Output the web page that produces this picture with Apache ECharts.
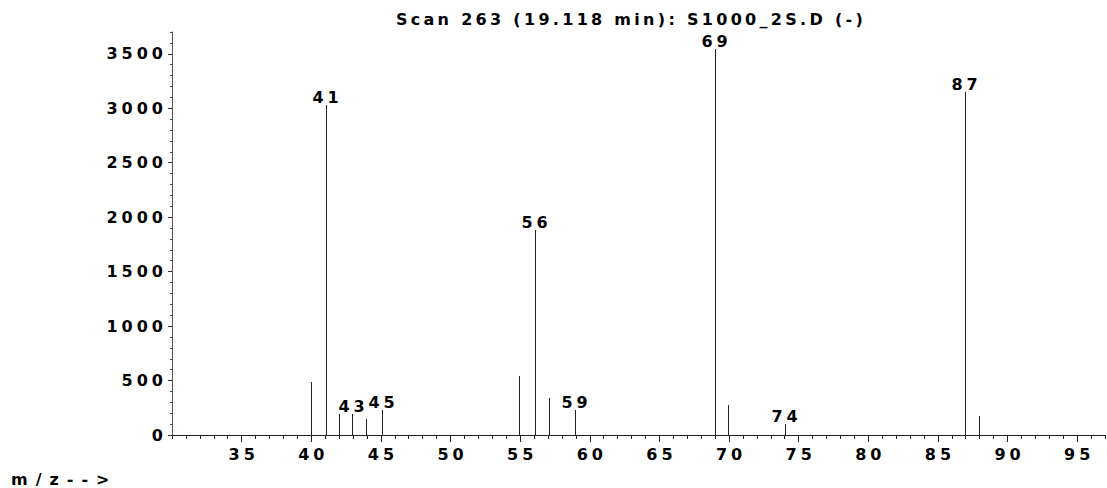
<!DOCTYPE html>
<html>
<head>
<meta charset="utf-8">
<script src="https://cdn.jsdelivr.net/npm/echarts@6/dist/echarts.min.js"></script>
<style>
html, body { margin: 0; padding: 0; background: #ffffff; }
#main { width: 1107px; height: 488px; }
#main text { letter-spacing: 4px; }
#main text[style*="Verdana"] { letter-spacing: 3.3px; }
#main text[style*="Tahoma"] { letter-spacing: 8px; }
</style>
</head>
<body>
<div id="main"></div>
<script>
// ---- data ----
const titleText = 'Scan 263 (19.118 min): S1000_2S.D (-)';
const xAxisText = 'm/z-->';
const mz        = [40.0, 41.05, 42.0, 42.9, 43.9, 45.05, 54.95, 56.1, 57.1, 58.95, 69.0, 69.9, 74.0, 86.95, 87.95];
const abundance = [490, 3030, 195, 193, 145, 230, 545, 1880, 343, 230, 3545, 273, 101, 3148, 177];
const peakLabels = ['', '41', '', '43', '', '45', '', '56', '', '59', '69', '', '74', '87', ''];
const xTickLabels = [35, 40, 45, 50, 55, 60, 65, 70, 75, 80, 85, 90, 95];
const yTickLabels = [0, 500, 1000, 1500, 2000, 2500, 3000, 3500];

const labelFont = 'DejaVu Sans';
const titleFont = 'Verdana, DejaVu Sans';
const unitFont = 'Tahoma, DejaVu Sans';

const chart = echarts.init(document.getElementById('main'), null, { renderer: 'svg' });

const option = {
  animation: false,
  backgroundColor: '#ffffff',
  title: [
    {
      text: titleText,
      left: 626,
      top: 6,
      textAlign: 'center',
      textStyle: { fontFamily: titleFont, fontSize: 16, fontWeight: 'bold', color: '#000' }
    },
    {
      text: xAxisText,
      left: 6,
      top: 466,
      textStyle: { fontFamily: unitFont, fontSize: 16, fontWeight: 'bold', color: '#000' }
    }
  ],
  grid: { left: 172, right: 2, top: 32, bottom: 53, containLabel: false },
  xAxis: [
    {
      type: 'value', min: 30, max: 97, interval: 1,
      position: 'bottom',
      splitLine: { show: false },
      axisLine: { show: true, lineStyle: { color: '#222', width: 1 } },
      axisTick: { show: true, length: 4, lineStyle: { color: '#222' } },
      axisLabel: {
        customValues: xTickLabels,
        formatter: function (v) { return String(v); },
        margin: 11,
        padding: [0, 0, 0, 4],
        fontFamily: labelFont, fontSize: 16, fontWeight: 'bold', color: '#000'
      }
    },
    {
      type: 'value', min: 30, max: 97,
      position: 'bottom',
      splitLine: { show: false },
      axisLine: { show: false },
      axisTick: { show: true, length: 7, customValues: xTickLabels, lineStyle: { color: '#222' } },
      axisLabel: { show: false }
    }
  ],
  yAxis: [
    {
      type: 'value', min: 0, max: 3700, interval: 100,
      position: 'left',
      splitLine: { show: false },
      axisLine: { show: true, lineStyle: { color: '#555', width: 1 } },
      axisTick: { show: true, length: 2, lineStyle: { color: '#444' } },
      axisLabel: {
        customValues: yTickLabels,
        formatter: function (v) { return String(v); },
        margin: 5,
        fontFamily: labelFont, fontSize: 16, fontWeight: 'bold', color: '#000'
      }
    },
    {
      type: 'value', min: 0, max: 3700,
      position: 'left',
      splitLine: { show: false },
      axisLine: { show: false },
      axisTick: { show: true, length: 4, customValues: yTickLabels, lineStyle: { color: '#333' } },
      axisLabel: { show: false }
    }
  ],
  series: [
    {
      type: 'custom',
      xAxisIndex: 0,
      yAxisIndex: 0,
      data: mz.map((m, i) => [m, abundance[i]]),
      encode: { x: 0, y: 1 },
      clip: false,
      renderItem: function (params, api) {
        const base = api.coord([api.value(0), 0]);
        const top = api.coord([api.value(0), api.value(1)]);
        const x = Math.round(top[0]) + 0.5;
        const children = [{
          type: 'line',
          shape: { x1: x, y1: Math.round(base[1]), x2: x, y2: Math.round(top[1]) },
          style: { stroke: '#222', lineWidth: 1 }
        }];
        const lab = peakLabels[params.dataIndex];
        if (lab) {
          children.push({
            type: 'text',
            x: x + 1,
            y: top[1] - 7.5,
            style: {
              text: lab,
              textAlign: 'center',
              textVerticalAlign: 'middle',
              fontFamily: labelFont,
              fontSize: 16,
              fontWeight: 'bold',
              fill: '#000'
            }
          });
        }
        return { type: 'group', children: children };
      }
    }
  ]
};

chart.setOption(option);
</script>
</body>
</html>
